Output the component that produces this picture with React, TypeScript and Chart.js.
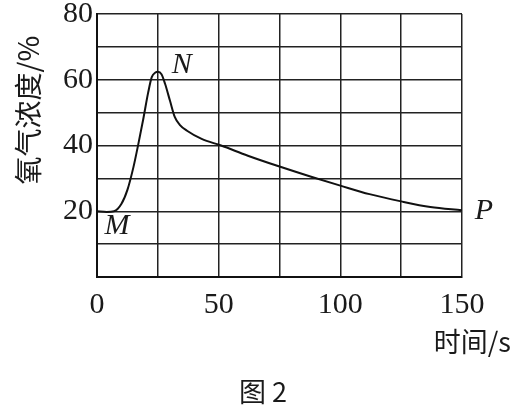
import React, { useEffect, useRef } from "react";
import { Chart, registerables } from "chart.js";

Chart.register(...registerables);

const timeValues = [0, 4, 7, 10, 12.5, 15, 17, 19, 21, 22.5, 24, 25, 26.5, 28, 30, 32, 34, 37, 43, 51, 62, 75, 88, 100, 112, 125, 137, 150];
const oxygenValues = [20, 19.8, 20, 22.2, 26.5, 33.5, 40.5, 48, 56, 60.8, 62.2, 62.4, 61.7, 58.7, 53.6, 48.6, 46.3, 44.5, 42, 40, 36.9, 33.6, 30.5, 27.8, 25.2, 23, 21.3, 20.3];
const xTickLabels = [0, 50, 100, 150];
const yTickLabels = [20, 40, 60, 80];
const yTitle = "氧气浓度/%";
const xTitle = "时间/s";
const figureCaption = "图 2";
const pointLabels = [
  { text: "M", t: 0, v: 20 },
  { text: "N", t: 25, v: 62 },
  { text: "P", t: 150, v: 20 },
];

const SERIF = "'Liberation Serif', 'DejaVu Serif', serif";
const CJK = "'Noto Sans CJK SC', 'Noto Sans', sans-serif";

export default function App() {
  const ref = useRef<HTMLCanvasElement | null>(null);

  useEffect(() => {
    if (!ref.current) return;
    const textPlugin = {
      id: "texts",
      afterDraw(chart: any) {
        const ctx = chart.ctx as CanvasRenderingContext2D;
        const xs = chart.scales.x;
        const ys = chart.scales.y;
        ctx.save();
        ctx.fillStyle = "#1a1a1a";
        ctx.save();
        ctx.translate(28, 110);
        ctx.rotate(-Math.PI / 2);
        ctx.textAlign = "center";
        ctx.textBaseline = "middle";
        ctx.font = `28px ${CJK}`;
        ctx.fillText(yTitle, 0, 0);
        ctx.restore();
        ctx.textAlign = "right";
        ctx.textBaseline = "middle";
        ctx.font = `27px ${CJK}`;
        ctx.fillText(xTitle, 511, 342);
        ctx.textAlign = "center";
        ctx.font = `27px ${CJK}`;
        ctx.fillText(figureCaption, 263, 392);
        ctx.font = `italic 30px ${SERIF}`;
        const offs: Record<string, [number, number]> = { M: [20, 15], N: [24, -8], P: [22, 0] };
        pointLabels.forEach((p) => {
          const o = offs[p.text];
          ctx.fillText(p.text, xs.getPixelForValue(p.t) + o[0], ys.getPixelForValue(p.v) + o[1]);
        });
        ctx.restore();
      },
    };

    const chart = new Chart(ref.current, {
      type: "line",
      data: {
        datasets: [
          {
            data: timeValues.map((t, i) => ({ x: t, y: oxygenValues[i] })),
            borderColor: "#111",
            borderWidth: 2,
            pointRadius: 0,
            fill: false,
            cubicInterpolationMode: "monotone",
          },
        ],
      },
      options: {
        responsive: false,
        animation: false,
        layout: { padding: { top: 14, right: 61, left: 0, bottom: 0 } },
        plugins: { legend: { display: false }, tooltip: { enabled: false } },
        scales: {
          x: {
            type: "linear",
            min: 0,
            max: 150,
            border: { color: "#111", width: 2 },
            grid: { color: "#222", lineWidth: 1.5, drawTicks: false },
            ticks: {
              stepSize: 25,
              padding: 10,
              color: "#1a1a1a",
              font: { family: SERIF, size: 30 },
              maxRotation: 0,
              autoSkip: false,
              callback: (v: any) => (xTickLabels.includes(Number(v)) ? String(v) : ""),
            },
            afterFit(scale: any) {
              scale.height = 131;
              scale.paddingLeft = 0;
              scale.paddingRight = 0;
            },
          },
          y: {
            min: 0,
            max: 80,
            border: { color: "#111", width: 2 },
            grid: { color: "#222", lineWidth: 1.5, drawTicks: false },
            ticks: {
              stepSize: 10,
              padding: 4,
              color: "#1a1a1a",
              font: { family: SERIF, size: 30 },
              autoSkip: false,
              callback: (v: any) => (yTickLabels.includes(Number(v)) ? String(v) : ""),
            },
            afterFit(scale: any) {
              scale.width = 97;
              scale.paddingTop = 0;
              scale.paddingBottom = 0;
            },
          },
        },
      },
      plugins: [textPlugin],
    } as any);
    return () => chart.destroy();
  }, []);

  return (
    <div style={{ position: "fixed", left: 0, top: 0, width: 523, height: 408, background: "#fff" }}>
      <canvas ref={ref} width={523} height={408} />
    </div>
  );
}
